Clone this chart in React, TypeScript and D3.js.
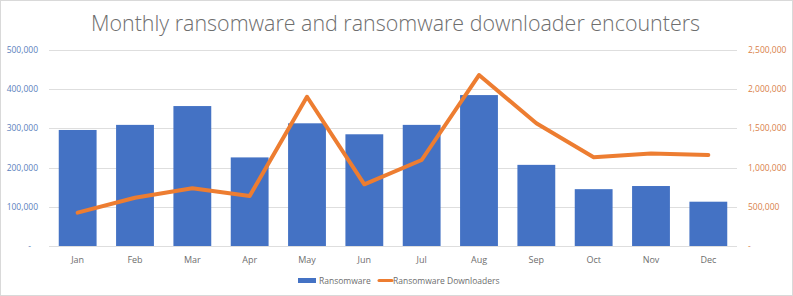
import React, { useRef, useEffect } from 'react';
import * as d3 from 'd3';

const months = ['Jan', 'Feb', 'Mar', 'Apr', 'May', 'Jun', 'Jul', 'Aug', 'Sep', 'Oct', 'Nov', 'Dec'];
const ransomware = [296000, 309000, 357000, 226000, 313000, 285000, 309000, 385000, 207000, 145000, 153000, 113000];
const downloaders = [425000, 616000, 736000, 638000, 1904000, 787000, 1097000, 2181000, 1565000, 1131000, 1180000, 1160000];
const leftTicks = [0, 100000, 200000, 300000, 400000, 500000];
const rightTicks = [0, 500000, 1000000, 1500000, 2000000, 2500000];

const W = 793;
const H = 296;
const BLUE = '#4472C4';
const ORANGE = '#ED7D31';
const FONT = '"Segoe UI", "Open Sans", "Noto Sans", sans-serif';

function App() {
  const svgRef = useRef<SVGSVGElement>(null);

  useEffect(() => {
    document.body.style.margin = '0';
    const svg = d3.select(svgRef.current);
    svg.selectAll('*').remove();

    const left = 49, right = 737, top = 50, bottom = 246;
    const x = d3.scaleBand().domain(months).range([left, right]).paddingInner(0.34).paddingOuter(0.17);
    const yL = d3.scaleLinear().domain([0, 500000]).range([bottom, top]);
    const yR = d3.scaleLinear().domain([0, 2500000]).range([bottom, top]);
    const fmt = d3.format(',');

    svg.append('rect').attr('x', 0.5).attr('y', 0.5).attr('width', W - 1).attr('height', H - 1)
      .attr('fill', '#fff').attr('stroke', '#d9d9d9');

    svg.append('text').attr('x', 91).attr('y', 31)
      .attr('textLength', 609).attr('lengthAdjust', 'spacingAndGlyphs')
      .attr('font-family', FONT).attr('font-weight', 300).attr('font-size', 22.5).attr('fill', '#6e6e6e')
      .text('Monthly ransomware and ransomware downloader encounters');

    // gridlines
    svg.selectAll('.grid').data(leftTicks).join('line')
      .attr('x1', left).attr('x2', right)
      .attr('y1', d => Math.round(yL(d)) + 0.5).attr('y2', d => Math.round(yL(d)) + 0.5)
      .attr('stroke', '#dedede').attr('stroke-width', 1);

    // left axis labels
    svg.selectAll('.lt').data(leftTicks).join('text')
      .attr('x', d => (d === 0 ? 31 : 38)).attr('y', d => yL(d) + 3)
      .attr('text-anchor', 'end').attr('font-family', FONT).attr('font-size', 8.5)
      .attr('fill', '#5b7fbd').text(d => (d === 0 ? '-' : fmt(d)));

    // right axis labels
    svg.selectAll('.rt').data(rightTicks).join('text')
      .attr('x', 748).attr('y', d => yR(d) + 3)
      .attr('text-anchor', 'start').attr('font-family', FONT).attr('font-size', 8.5)
      .attr('fill', '#d9814a').text(d => (d === 0 ? '-' : fmt(d)));

    // bars
    svg.selectAll('.bar').data(ransomware).join('rect')
      .attr('x', (d, i) => x(months[i])!)
      .attr('width', x.bandwidth())
      .attr('y', d => yL(d))
      .attr('height', d => bottom - yL(d))
      .attr('fill', BLUE);

    // line
    const line = d3.line<number>()
      .x((d, i) => x(months[i])! + x.bandwidth() / 2)
      .y(d => yR(d));
    svg.append('path').datum(downloaders).attr('d', line)
      .attr('fill', 'none').attr('stroke', ORANGE).attr('stroke-width', 4)
      .attr('stroke-linejoin', 'round').attr('stroke-linecap', 'round');

    // month labels
    svg.selectAll('.mt').data(months).join('text')
      .attr('x', d => x(d)! + x.bandwidth() / 2).attr('y', 263)
      .attr('text-anchor', 'middle').attr('font-family', FONT).attr('font-size', 9)
      .attr('fill', '#6e6e6e').text(d => d);

    // legend
    const lg = svg.append('g').attr('font-family', FONT).attr('font-size', 8.5).attr('fill', '#6e6e6e');
    lg.append('rect').attr('x', 298).attr('y', 278).attr('width', 18).attr('height', 5).attr('fill', BLUE);
    lg.append('text').attr('x', 319).attr('y', 284).text('Ransomware');
    lg.append('line').attr('x1', 379).attr('x2', 392).attr('y1', 280.5).attr('y2', 280.5)
      .attr('stroke', ORANGE).attr('stroke-width', 3).attr('stroke-linecap', 'round');
    lg.append('text').attr('x', 393).attr('y', 284).text('Ransomware Downloaders');
  }, []);

  return <svg ref={svgRef} width={W} height={H} style={{ display: 'block' }} />;
}

export default App;
